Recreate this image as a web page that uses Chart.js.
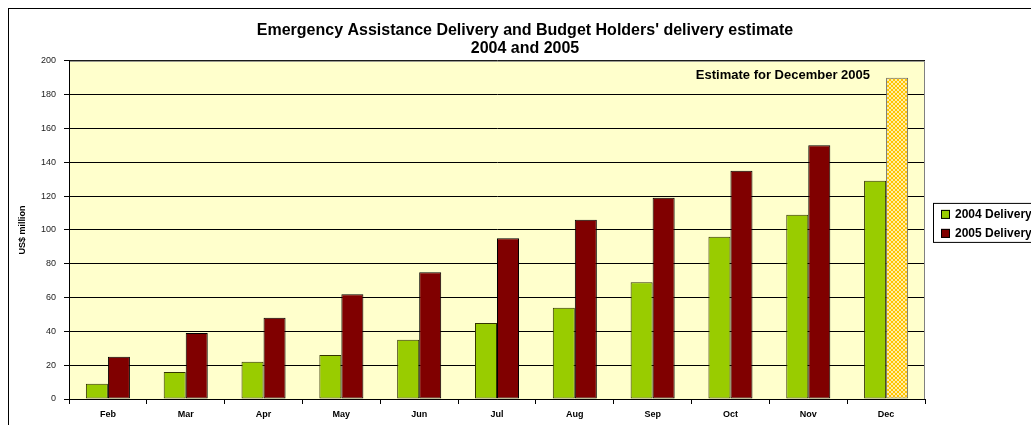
<!DOCTYPE html>
<html>
<head>
<meta charset="utf-8">
<script src="https://cdn.jsdelivr.net/npm/chart.js@4.4.1/dist/chart.umd.min.js"></script>
<style>
    body { margin: 0; background: #ffffff; overflow: hidden; }
    #frame {
        position: absolute; left: 8px; top: 8px;
        width: 1100px; height: 500px;
        border-left: 1px solid #000000; border-top: 1px solid #000000;
    }
    #deliveryChart { position: absolute; left: 0; top: 0; }
</style>
</head>
<body>
<div id="frame">
    <canvas id="deliveryChart" width="1032" height="440"></canvas>
</div>
<script>
var months = ["Feb", "Mar", "Apr", "May", "Jun", "Jul", "Aug", "Sep", "Oct", "Nov", "Dec"];
var delivery2004 = [9, 16, 22, 26, 35, 45, 54, 69, 96, 109, 129];
var delivery2005 = [25, 39, 48, 62, 75, 95, 106, 119, 135, 150, 190];
var seriesNames = ["2004 Delivery", "2005 Delivery"];
var yMin = 0, yMax = 200, yStep = 20;
var titleLines = ["Emergency Assistance Delivery and Budget Holders' delivery estimate", "2004 and 2005"];
var estimateNote = "Estimate for December 2005";

var green = "#99CC00";
var darkRed = "#800000";
var fontFamily = "Arial, 'Liberation Sans', sans-serif";

function makeCheckPattern() {
    var c = document.createElement("canvas");
    c.width = 4;
    c.height = 4;
    var p = c.getContext("2d");
    p.fillStyle = "#FFC400";
    p.fillRect(0, 0, 4, 4);
    p.fillStyle = "#FFEDA8";
    p.fillRect(0, 0, 2, 2);
    p.fillRect(2, 2, 2, 2);
    return p.createPattern(c, "repeat");
}

// plot background, gray frame, note text and boxed legend
var excelLook = {
    id: "excelLook",
    beforeDraw: function (chart) {
        var a = chart.chartArea, ctx = chart.ctx;
        ctx.save();
        ctx.fillStyle = "#FFFFCC";
        ctx.fillRect(a.left, a.top, a.right - a.left, a.bottom - a.top);
        ctx.restore();
    },
    beforeDatasetsDraw: function (chart) {
        var a = chart.chartArea, ctx = chart.ctx;
        ctx.save();
        ctx.strokeStyle = "#808080";
        ctx.lineWidth = 1;
        ctx.beginPath();
        ctx.moveTo(a.left + 1, a.top + 0.5);
        ctx.lineTo(a.right - 0.5, a.top + 0.5);
        ctx.lineTo(a.right - 0.5, a.bottom);
        ctx.stroke();
        ctx.restore();
    },
    afterDraw: function (chart) {
        var a = chart.chartArea, ctx = chart.ctx;
        ctx.save();
        ctx.fillStyle = "#000000";
        ctx.font = "bold 13px " + fontFamily;
        ctx.textAlign = "right";
        ctx.textBaseline = "middle";
        ctx.fillText(estimateNote, a.right - 55, a.top + 15);

        var boxLeft = a.right + 8;
        var boxTop = (a.top + a.bottom) / 2 - 27;
        ctx.strokeStyle = "#000000";
        ctx.lineWidth = 1;
        ctx.strokeRect(boxLeft + 0.5, boxTop + 0.5, 130, 39);

        var colors = [green, darkRed];
        ctx.font = "bold 12px " + fontFamily;
        ctx.textAlign = "left";
        for (var i = 0; i < seriesNames.length; i++) {
            var y = boxTop + 7 + i * 19;
            ctx.fillStyle = colors[i];
            ctx.fillRect(boxLeft + 8, y, 9, 9);
            ctx.strokeRect(boxLeft + 8.5, y + 0.5, 8, 8);
            ctx.fillStyle = "#000000";
            ctx.fillText(seriesNames[i], boxLeft + 22, y + 5);
        }
        ctx.restore();
    }
};

document.addEventListener("DOMContentLoaded", function () {
    var ctx = document.getElementById("deliveryChart").getContext("2d");

    var colors2005 = delivery2005.map(function () { return darkRed; });
    var borders2005 = delivery2005.map(function () { return "#000000"; });
    colors2005[colors2005.length - 1] = makeCheckPattern();
    borders2005[borders2005.length - 1] = "#666666";

    new Chart(ctx, {
        type: "bar",
        data: {
            labels: months,
            datasets: [{
                label: seriesNames[0],
                data: delivery2004,
                backgroundColor: green,
                borderColor: "#333300",
                borderWidth: 1,
                borderSkipped: false
            }, {
                label: seriesNames[1],
                data: delivery2005,
                backgroundColor: colors2005,
                borderColor: borders2005,
                borderWidth: 1,
                borderSkipped: false
            }]
        },
        options: {
            responsive: false,
            animation: false,
            categoryPercentage: 0.566,
            barPercentage: 1,
            layout: { padding: { left: 0, right: 0, top: 0, bottom: 28 } },
            plugins: {
                legend: { display: false },
                tooltip: { enabled: false },
                title: {
                    display: true,
                    text: titleLines,
                    color: "#000000",
                    font: { family: fontFamily, size: 16, weight: "bold", lineHeight: 1.15 },
                    padding: { top: 12, bottom: 3 }
                }
            },
            scales: {
                x: {
                    grid: { drawOnChartArea: false, color: "#000000", tickLength: 5 },
                    border: { color: "#000000" },
                    ticks: {
                        color: "#000000",
                        padding: 5,
                        maxRotation: 0,
                        font: { family: fontFamily, size: 9, weight: "bold" }
                    },
                    afterFit: function (s) { s.height = 22; }
                },
                y: {
                    min: yMin,
                    max: yMax,
                    grid: { color: "#000000", tickLength: 5 },
                    border: { color: "#000000" },
                    ticks: {
                        stepSize: yStep,
                        color: "#222222",
                        padding: 8,
                        font: { family: fontFamily, size: 9 }
                    },
                    title: {
                        display: true,
                        text: "US$ million",
                        color: "#000000",
                        padding: { top: 8, bottom: 0 },
                        font: { family: fontFamily, size: 9, weight: "bold" }
                    },
                    afterFit: function (s) { s.width = 60; }
                },
                legendSpace: {
                    type: "linear",
                    position: "right",
                    grid: { display: false },
                    border: { display: false },
                    ticks: { display: false },
                    afterFit: function (s) { s.width = 116; }
                }
            }
        },
        plugins: [excelLook]
    });
});
</script>
</body>
</html>
